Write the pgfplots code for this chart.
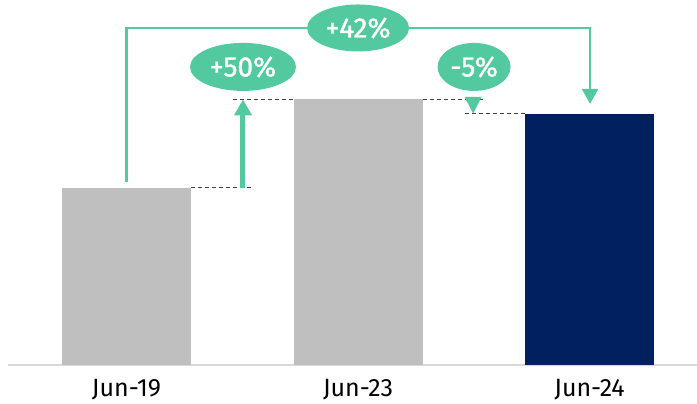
\documentclass[border=0pt]{standalone}
\usepackage{pgfplots}
\pgfplotsset{compat=1.18}
\usepackage{fontspec}
\setmainfont{Fira Sans}
\newfontfamily\labfont[FakeBold=1.2]{Fira Sans}
\usetikzlibrary{arrows.meta,shapes.geometric}
\definecolor{grn}{HTML}{52C99F}
\definecolor{barg}{HTML}{BFBFBF}
\definecolor{navy}{HTML}{002060}
\definecolor{dashc}{HTML}{404040}
\definecolor{axg}{HTML}{D9D9D9}
\begin{document}
\begin{tikzpicture}
\useasboundingbox (0pt,0pt) rectangle (697pt,-404pt);
\begin{axis}[
  at={(8pt,-365pt)}, anchor=south west,
  scale only axis, width=689pt, height=365pt,
  xmin=-0.512, xmax=2.464, ymin=0, ymax=206.2,
  axis x line*=bottom, axis y line=none,
  x axis line style={draw=axg, line width=1.5pt, -},
  ytick=\empty,
  xtick={0,1,2}, xticklabels={Jun-19,Jun-23,Jun-24},
  major tick length=0pt,
  xticklabel style={anchor=north, inner sep=0pt, yshift=-14pt, font=\fontsize{25}{27}\selectfont, text=black},
  ybar, bar width=129pt,
  clip=false,
]
\addplot[fill=barg, draw=none, bar shift=0pt] coordinates {(0,100)};
\addplot[fill=barg, draw=none, bar shift=0pt] coordinates {(1,150)};
\addplot[fill=navy, draw=none, bar shift=0pt] coordinates {(2,142)};
% dashed guide lines
\draw[dashc, line width=1pt, dash pattern=on 4pt off 3pt] (axis cs:0.2786,100) -- (axis cs:0.542,100);
\draw[dashc, line width=1pt, dash pattern=on 4pt off 3pt] (axis cs:0.46,150) -- (axis cs:0.7214,150);
\draw[dashc, line width=1pt, dash pattern=on 4pt off 3pt] (axis cs:1.2786,150) -- (axis cs:1.54,150);
\draw[dashc, line width=1pt, dash pattern=on 4pt off 3pt] (axis cs:1.462,142) -- (axis cs:1.7214,142);
% up arrow +50%
\draw[grn, line width=5pt, -{Triangle[width=17pt,length=16pt]}] (axis cs:0.503,100) -- (axis cs:0.503,150);
% down triangle -5%
\fill[grn] (axis cs:1.4603,151.5) -- (axis cs:1.5337,151.5) -- (axis cs:1.497,142) -- cycle;
% bracket +42%
\draw[grn, line width=2.5pt, -{Triangle[width=16pt,length=15pt]}]
  (axis cs:0,103.4) -- (axis cs:0,190.4) -- (axis cs:2.002,190.4) -- (axis cs:2.002,147.5);
% labels
\node[ellipse, fill=grn, minimum width=102pt, minimum height=47pt, inner sep=0pt, text=white, font=\labfont\fontsize{28}{30}\selectfont] at (axis cs:1.0,190.4) {+42\%};
\node[ellipse, fill=grn, minimum width=106pt, minimum height=48pt, inner sep=0pt, text=white, font=\labfont\fontsize{28}{30}\selectfont] at (axis cs:0.503,168.4) {+50\%};
\node[ellipse, fill=grn, minimum width=73pt, minimum height=48pt, inner sep=0pt, text=white, font=\labfont\fontsize{28}{30}\selectfont] at (axis cs:1.501,168.4) {-5\%};
\end{axis}
\end{tikzpicture}
\end{document}
